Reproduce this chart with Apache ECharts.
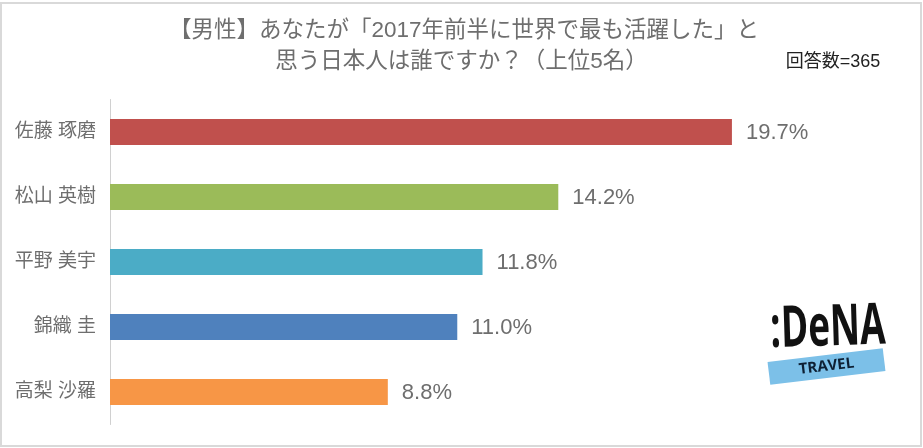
<!doctype html>
<html>
    <head>
        <meta charset="utf-8">
        <title>DeNA Travel</title>
        <style>
            html, body { margin: 0; padding: 0; background: #fff; }
            #main { width: 923px; height: 448px; }
        </style>
    </head>
    <body>
        <div id="main"></div>
        <script src="https://cdn.jsdelivr.net/npm/echarts@6/dist/echarts.min.js"></script>
        <script>
            var names = ['佐藤 琢磨', '松山 英樹', '平野 美宇', '錦織 圭', '高梨 沙羅'];
            var values = [19.7, 14.2, 11.8, 11.0, 8.8];
            var colors = ['#c0504d', '#9bbb59', '#4bacc6', '#4f81bd', '#f79646'];
            var titleLines = ['【男性】あなたが「2017年前半に世界で最も活躍した」と', '思う日本人は誰ですか？（上位5名）'];
            var sampleNote = '回答数=365';

            var jpFont = '"Liberation Sans", "Noto Sans CJK JP", sans-serif';
            var chart = echarts.init(document.getElementById('main'));

            chart.setOption({
                animation: false,
                backgroundColor: '#fff',
                grid: { left: 110, top: 99.5, width: 631.4, height: 325 },
                xAxis: {
                    type: 'value',
                    min: 0,
                    max: 20,
                    show: false
                },
                yAxis: {
                    type: 'category',
                    inverse: true,
                    data: names,
                    axisLine: { lineStyle: { color: '#d0d0d0', width: 1 } },
                    axisTick: { show: false },
                    axisLabel: {
                        color: '#6e6e6e',
                        fontFamily: jpFont,
                        fontSize: 19,
                        margin: 14
                    }
                },
                series: [{
                    type: 'bar',
                    barWidth: 26,
                    data: values.map(function (v, i) {
                        return { value: v, itemStyle: { color: colors[i] } };
                    }),
                    label: {
                        show: true,
                        position: 'right',
                        distance: 14,
                        offset: [0, 1],
                        color: '#6e6e6e',
                        fontFamily: jpFont,
                        fontSize: 22,
                        formatter: function (p) {
                            return p.value.toFixed(1) + '%';
                        }
                    }
                }],
                graphic: [
                    {
                        type: 'rect',
                        silent: true,
                        shape: { x: 1, y: 3, width: 920, height: 443 },
                        style: { fill: 'none', stroke: '#d9d9d9', lineWidth: 2 }
                    },
                    {
                        type: 'text',
                        x: 464,
                        y: 31,
                        style: {
                            text: titleLines[0],
                            align: 'center',
                            verticalAlign: 'middle',
                            fill: '#6e6e6e',
                            font: '22.5px ' + jpFont
                        }
                    },
                    {
                        type: 'text',
                        x: 461.5,
                        y: 62,
                        style: {
                            text: titleLines[1],
                            align: 'center',
                            verticalAlign: 'middle',
                            fill: '#6e6e6e',
                            font: '22.5px ' + jpFont
                        }
                    },
                    {
                        type: 'text',
                        x: 833,
                        y: 62,
                        style: {
                            text: sampleNote,
                            align: 'center',
                            verticalAlign: 'middle',
                            fill: '#222',
                            font: '18px ' + jpFont
                        }
                    },
                    // logo
                    {
                        type: 'text',
                        x: 828,
                        y: 329,
                        scaleX: 0.84,
                        scaleY: 1.3,
                        rotation: 0.03,
                        style: {
                            text: ':DeNA',
                            align: 'center',
                            verticalAlign: 'middle',
                            fill: '#111',
                            font: 'bold 44px "Open Sans", sans-serif'
                        }
                    },
                    {
                        type: 'group',
                        x: 826.5,
                        y: 366.5,
                        rotation: 0.12,
                        children: [
                            {
                                type: 'rect',
                                shape: { x: -58, y: -11.5, width: 116, height: 23 },
                                style: { fill: '#7cc0e8' }
                            },
                            {
                                type: 'text',
                                style: {
                                    text: 'TRAVEL',
                                    align: 'center',
                                    verticalAlign: 'middle',
                                    fill: '#0d1f33',
                                    font: 'bold 15px "Open Sans", sans-serif'
                                }
                            }
                        ]
                    }
                ]
            });
        </script>
    </body>
</html>
